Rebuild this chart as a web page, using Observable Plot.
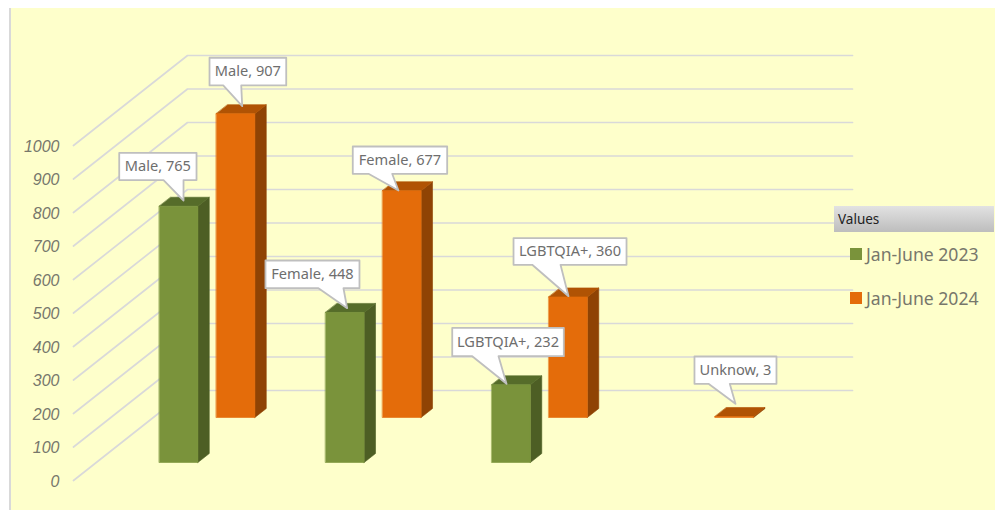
<!DOCTYPE html>
<html>
<head>
<meta charset="utf-8">
<script src="https://cdn.jsdelivr.net/npm/d3@7"></script>
<script src="https://cdn.jsdelivr.net/npm/@observablehq/plot@0.6"></script>
<style>
  html, body { margin: 0; padding: 0; background: #fff; width: 995px; height: 510px; overflow: hidden; }
  #panel { position: absolute; left: 9px; top: 8px; width: 986px; height: 502px; background: #feffcb; border-left: 2px solid #d9d9d9; box-sizing: border-box; }
  #chart { position: absolute; left: 0; top: 0; }
  #chart svg { overflow: visible; }
  #legend { position: absolute; left: 834px; top: 206px; width: 160px; font-family: "Noto Sans", sans-serif; }
  #legend .head { height: 26px; line-height: 26px; padding-left: 4px; font-size: 13.5px; color: #222; background: linear-gradient(#e2e2e2, #bdbdbd); }
  #legend .item { position: absolute; left: 32px; white-space: nowrap; font-size: 17.6px; color: #77776b; line-height: 24px; }
  #legend .sw { position: absolute; left: 16px; width: 12px; height: 12px; }
</style>
</head>
<body>
<div id="panel"></div>
<div id="chart"></div>
<div id="legend"></div>
<script>
const categories = ["Male", "Female", "LGBTQIA+", "Unknow"];
const series = ["Jan-June 2023", "Jan-June 2024"];
const values2023 = [765, 448, 232, null];
const values2024 = [907, 677, 360, 3];
const yTicks = [0, 100, 200, 300, 400, 500, 600, 700, 800, 900, 1000];

// Scale layout
const W = 995, H = 510, mL = 73, mR = 257, mT = 145, mB = 30;
const pxPerCat = (W - mL - mR) / categories.length;
const pxPerVal = (H - mT - mB) / 1000;
const depthX = 114 / pxPerCat, depthY = 90 / pxPerVal; // oblique projection of one full depth
const barW = 0.232, barLeft = 0.379;
const seriesDepth = [0.2, 0.7], barDepth = 0.1;
const colors = [
  {front: "#7a933b", side: "#4d5e24", top: "#566c2a"},
  {front: "#e46c0a", side: "#8f4304", top: "#b05304"}
];

const P = (c, v, d) => ({x: c + d * depthX, y: v + d * depthY});

// callout geometry in px, relative to the centre of each bar's top face:
// tipDx, tipDy, boxLeft, boxRight, boxTop, boxBottom, tailLeft, tailRight
const calloutLayout = [
  [[-1.6, -1.2, -65.9, 11.4, -48.9, -21.7, -21.6, -1.6],
   [-4.2, 0.3, -85.9, 8.1, -47.4, -19.7, -32.9, -7.9],
   [-11.1, 3.5, -65.4, 46.2, -52.5, -24.1, -45.4, -19.1], null],
  [[0.1, -3, -32.6, 44.1, -51.4, -23.7, -18.9, -0.9],
   [-9.9, 4.3, -55.6, 38.8, -39.7, -12.4, -39.9, -16.2],
   [-6.1, 3.8, -61.1, 51.9, -54.2, -27.6, -42.4, -14.1],
   [-5.4, -8.2, -46.4, 35.6, -55.5, -28.2, -32.4, -11.1]]
];

const gridRows = [];
yTicks.forEach(v => {
  gridRows.push({id: v, ...P(0, v, 0)}, {id: v, ...P(0, v, 1)}, {id: v, ...P(categories.length, v, 1)});
});

const faces = [], boxes = [], texts = [];
[values2024, values2023].forEach((vals) => {
  const s = vals === values2023 ? 0 : 1;
  vals.forEach((v, i) => {
    if (v == null) return;
    const c0 = i + barLeft, c1 = c0 + barW;
    const d0 = seriesDepth[s], d1 = d0 + barDepth;
    const col = colors[s];
    const poly = (face, pts) => pts.forEach(p => faces.push({id: `${s}-${i}-${face}`, face: col[face], ...p}));
    poly("side", [P(c1, 0, d0), P(c1, 0, d1), P(c1, v, d1), P(c1, v, d0)]);
    poly("top", [P(c0, v, d0), P(c1, v, d0), P(c1, v, d1), P(c0, v, d1)]);
    poly("front", [P(c0, 0, d0), P(c1, 0, d0), P(c1, v, d0), P(c0, v, d0)]);
    // callouts
    const L = calloutLayout[s][i];
    const ctr = P(i + 0.5, v, d0 + barDepth / 2);
    const at = (dx, dy) => ({x: ctr.x + dx / pxPerCat, y: ctr.y - dy / pxPerVal});
    const [tx, ty, l, r, t, b, tl, tr] = L;
    const id = `${s}-${i}`;
    [at(l, t), at(r, t), at(r, b), at(tr, b), at(tx, ty), at(tl, b), at(l, b)]
      .forEach(p => boxes.push({id, ...p}));
    texts.push({...at((l + r) / 2, (t + b) / 2), label: `${categories[i]}, ${v}`});
  });
});

const faceMarks = [];
const order = [...new Set(faces.map(f => f.id))];
order.forEach(id => {
  const rows = faces.filter(f => f.id === id);
  faceMarks.push(Plot.line(rows, {x: "x", y: "y", curve: "linear-closed", fill: rows[0].face, stroke: rows[0].face, strokeWidth: 0.6}));
});

const chart = Plot.plot({
  width: W, height: H,
  marginLeft: mL, marginRight: mR, marginTop: mT, marginBottom: mB,
  style: {background: "transparent", overflow: "visible"},
  x: {type: "linear", domain: [0, categories.length], axis: null},
  y: {type: "linear", domain: [0, 1000]},
  marks: [
    Plot.line(gridRows, {x: "x", y: "y", z: "id", stroke: "#d9d9d9", strokeWidth: 1.7, curve: "linear"}),
    Plot.axisY({anchor: "left", ticks: yTicks, tickSize: 0, tickPadding: 14, label: null, dy: 1,
      fontSize: 16, fontStyle: "italic", fontFamily: "Liberation Sans", fill: "#77776b", tickFormat: d => String(d)}),
    ...faceMarks,
    Plot.line(boxes, {x: "x", y: "y", z: "id", curve: "linear-closed", fill: "white", stroke: "#bfbfbf", strokeWidth: 1.8}),
    Plot.text(texts, {x: "x", y: "y", text: "label", fontSize: 14.6, fontFamily: "Noto Sans", fill: "#6e6e6e"})
  ]
});
document.getElementById("chart").appendChild(chart);

const legend = document.getElementById("legend");
const head = document.createElement("div");
head.className = "head"; head.textContent = "Values";
legend.appendChild(head);
series.forEach((name, k) => {
  const sw = document.createElement("div");
  sw.className = "sw"; sw.style.top = (42 + k * 44) + "px"; sw.style.background = colors[k].front;
  const it = document.createElement("div");
  it.className = "item"; it.style.top = (36 + k * 44) + "px"; it.textContent = name;
  legend.append(sw, it);
});
</script>
</body>
</html>
